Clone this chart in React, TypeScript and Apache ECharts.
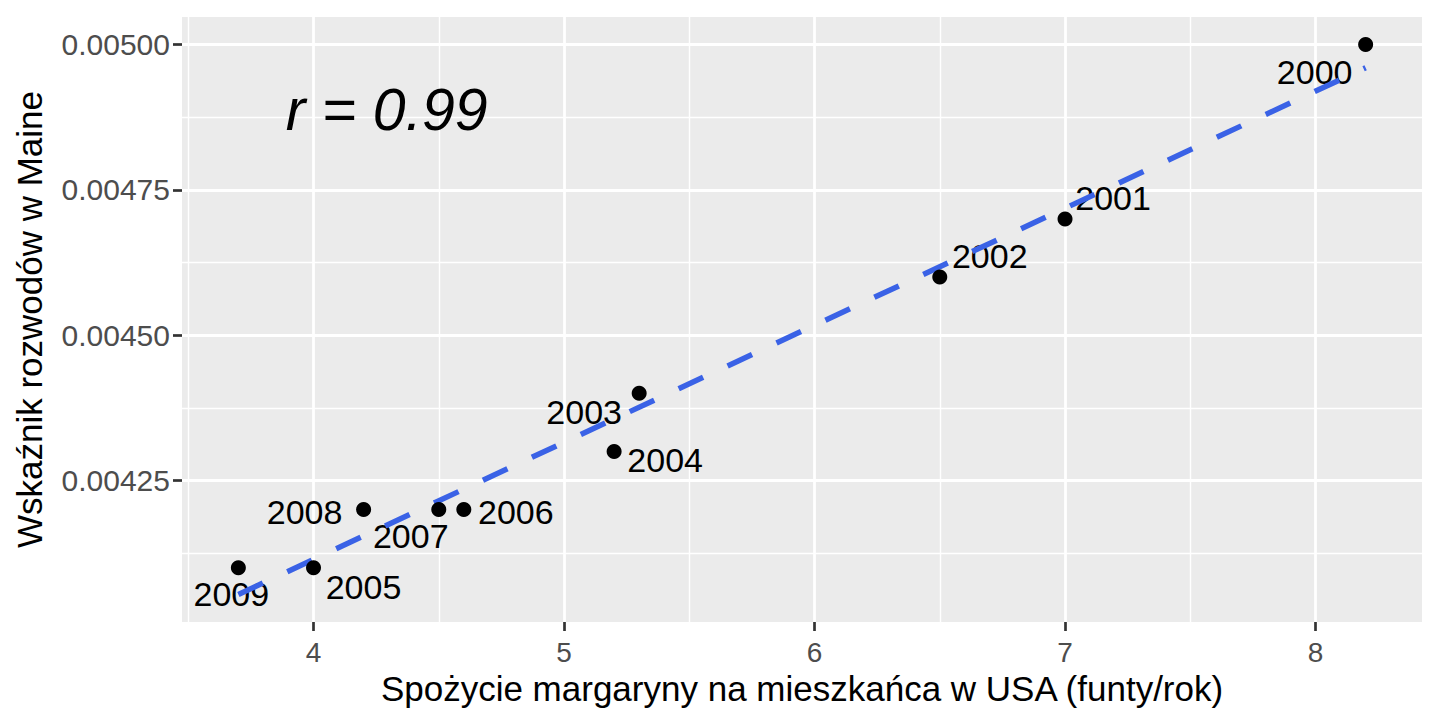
import React, { useEffect, useRef } from "react";
import * as echarts from "echarts";

// data
const years = ["2000", "2001", "2002", "2003", "2004", "2005", "2006", "2007", "2008", "2009"];
const margarine = [8.2, 7.0, 6.5, 5.3, 5.2, 4.0, 4.6, 4.5, 4.2, 3.7];
const divorceRate = [0.005, 0.0047, 0.0046, 0.0044, 0.0043, 0.0041, 0.0042, 0.0042, 0.0042, 0.0041];
// least squares fit, ends at the data range
const fitLine = [
  [3.7, 0.004054],
  [8.2, 0.00496],
];
const xTicks = [4, 5, 6, 7, 8];
const xMinor = [3.5, 4.5, 5.5, 6.5, 7.5];
const yTicks = [0.00425, 0.0045, 0.00475, 0.005];
const yMinor = [0.004125, 0.004375, 0.004625, 0.004875];
const corrText = "r = 0.99";
const corrPos = [4.292, 0.0048865];

// label offsets from each point, px
const labelOffsets = [
  [-51, 27],
  [48, -21],
  [50, -21],
  [-55, 19],
  [51, 9],
  [50, 19],
  [52, 2],
  [-28, 26],
  [-59, 2],
  [-7, 26],
];

const FONT = "'Liberation Sans', Arial, Helvetica, sans-serif";

const App: React.FC = () => {
  const chartRef = useRef<HTMLDivElement>(null);

  useEffect(() => {
    if (!chartRef.current) return;
    const chart = echarts.init(chartRef.current, undefined, { renderer: "svg" });

    const points = margarine.map((x, i) => [x, divorceRate[i]]);

    const gridLines = [
      ...xTicks.map((v) => ({ xAxis: v, lineStyle: { width: 2.8 } })),
      ...xMinor.map((v) => ({ xAxis: v, lineStyle: { width: 1.4 } })),
      ...yTicks.map((v) => ({ yAxis: v, lineStyle: { width: 2.8 } })),
      ...yMinor.map((v) => ({ yAxis: v, lineStyle: { width: 1.4 } })),
    ];

    const option = {
      animation: false,
      grid: {
        left: 182,
        right: 18,
        top: 17,
        bottom: 98,
        show: true,
        backgroundColor: "#EBEBEB",
        borderWidth: 0,
      },
      xAxis: {
        type: "value",
        min: 3.475,
        max: 8.425,
        name: "Spożycie margaryny na mieszkańca w USA (funty/rok)",
        nameLocation: "middle",
        nameGap: 47,
        nameTextStyle: { fontFamily: FONT, fontSize: 35, color: "#000" },
        axisLine: { show: false },
        splitLine: { show: false },
        axisTick: {
          show: true,
          length: 9,
          customValues: xTicks,
          lineStyle: { color: "#333333", width: 2.7 },
        },
        axisLabel: {
          customValues: xTicks,
          margin: 16,
          fontFamily: FONT,
          fontSize: 28,
          color: "#4D4D4D",
          formatter: (v: number) => String(v),
        },
      },
      yAxis: {
        type: "value",
        min: 0.0040067,
        max: 0.0050473,
        name: "Wskaźnik rozwodów w Maine",
        nameLocation: "middle",
        nameGap: 135,
        nameTextStyle: { fontFamily: FONT, fontSize: 35, color: "#000" },
        axisLine: { show: false },
        splitLine: { show: false },
        axisTick: {
          show: true,
          length: 9,
          customValues: yTicks,
          lineStyle: { color: "#333333", width: 2.7 },
        },
        axisLabel: {
          customValues: yTicks,
          margin: 12,
          fontFamily: FONT,
          fontSize: 30,
          color: "#4D4D4D",
          formatter: (v: number) => v.toFixed(5),
        },
      },
      series: [
        {
          name: "labels",
          type: "scatter",
          z: 2,
          silent: true,
          symbolSize: 1,
          itemStyle: { color: "rgba(0,0,0,0)", opacity: 1 },
          data: points.map((p, i) => ({
            value: p,
            label: {
              show: true,
              formatter: years[i],
              position: "inside",
              offset: labelOffsets[i],
              align: "center",
              verticalAlign: "middle",
              fontFamily: FONT,
              fontSize: 34,
              color: "#000",
              opacity: 1,
            },
          })),
          markLine: {
            z: 1,
            silent: true,
            precision: 8,
            symbol: ["none", "none"],
            label: { show: false },
            lineStyle: { color: "#FFFFFF", type: "solid", opacity: 1 },
            emphasis: { disabled: true },
            data: gridLines,
          },
        },
        {
          name: "corr",
          type: "scatter",
          z: 2,
          silent: true,
          symbolSize: 1,
          itemStyle: { color: "rgba(0,0,0,0)", opacity: 1 },
          data: [
            {
              value: corrPos,
              label: {
                show: true,
                formatter: corrText,
                position: "inside",
                align: "center",
                verticalAlign: "middle",
                fontFamily: FONT,
                fontSize: 59,
                fontStyle: "italic",
                color: "#000",
                opacity: 1,
              },
            },
          ],
        },
        {
          name: "fit",
          type: "line",
          z: 3,
          silent: true,
          showSymbol: false,
          symbol: "none",
          data: fitLine,
          lineStyle: { color: "#3A62E6", width: 5.5, type: [27, 27], cap: "butt", opacity: 1 },
        },
        {
          name: "points",
          type: "scatter",
          z: 4,
          silent: true,
          symbolSize: 15,
          itemStyle: { color: "#000", opacity: 1 },
          data: points,
        },
      ],
    };

    chart.setOption(option);

    const handleResize = () => chart.resize();
    window.addEventListener("resize", handleResize);
    return () => {
      window.removeEventListener("resize", handleResize);
      chart.dispose();
    };
  }, []);

  return (
    <div
      ref={chartRef}
      style={{ position: "fixed", left: 0, top: 0, width: 1440, height: 720, background: "#fff" }}
    />
  );
};

export default App;
